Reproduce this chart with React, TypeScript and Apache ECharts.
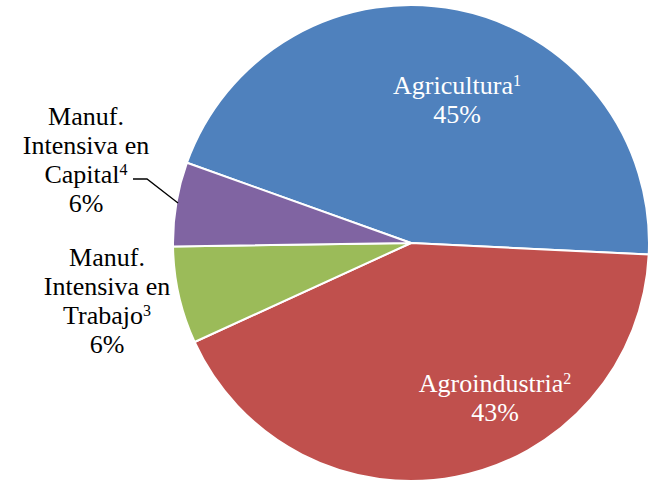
import React, { useEffect, useRef } from "react";
import * as echarts from "echarts";

const categories = [
  "Agricultura",
  "Agroindustria",
  "Manuf.\nIntensiva en\nTrabajo",
  "Manuf.\nIntensiva en\nCapital",
];
const notes = ["1", "2", "3", "4"];
const values = [45.3, 42.4, 6.6, 5.7];
const percentLabels = ["45%", "43%", "6%", "6%"];
const colors = ["#4F81BD", "#C0504D", "#9BBB59", "#8064A2"];

const labelPos = [
  { x: 457, y: 100 },
  { x: 495, y: 398 },
  { x: 107, y: 301 },
  { x: 86, y: 160 },
];
const leaderPoints = [
  [133, 179],
  [147, 179],
  [178, 203],
];

export default function App() {
  const ref = useRef<HTMLDivElement>(null);
  useEffect(() => {
    document.body.style.margin = "0";
    const chart = echarts.init(ref.current!, null, { renderer: "svg" });
    const font = "Liberation Serif";
    const lineGap = 29;
    const data = categories.map((name, i) => ({
      name,
      value: values[i],
      itemStyle: { color: colors[i] },
    }));
    const elements: any[] = [];
    categories.forEach((name, i) => {
      const fill = i < 2 ? "#ffffff" : "#000000";
      const nameLines = name.split("\n");
      const all = [...nameLines, percentLabels[i]];
      const n = all.length;
      all.forEach((line, j) => {
        const y = labelPos[i].y + (j - (n - 1) / 2) * lineGap;
        const isSup = j === nameLines.length - 1;
        const style: any = isSup
          ? {
              text: `{a|${line}}{b|${notes[i]}}`,
              rich: {
                a: { fontFamily: font, fontSize: 26, fill },
                b: { fontFamily: font, fontSize: 16, fill, verticalAlign: "top", lineHeight: 18 },
              },
              fill,
              align: "center",
              verticalAlign: "middle",
            }
          : {
              text: line,
              fontFamily: font,
              fontSize: 26,
              fill,
              align: "center",
              verticalAlign: "middle",
            };
        elements.push({ type: "text", x: labelPos[i].x, y, z: 10, style });
      });
    });
    elements.push({
      type: "polyline",
      z: 10,
      shape: { points: leaderPoints },
      style: { stroke: "#000000", lineWidth: 1.3, fill: null },
    });
    chart.setOption({
      animation: false,
      graphic: elements,
      series: [
        {
          type: "pie",
          center: [411, 243],
          radius: [0, 238],
          startAngle: 160.3,
          clockwise: true,
          itemStyle: { borderColor: "#ffffff", borderWidth: 2 },
          label: { show: false },
          labelLine: { show: false },
          data,
        },
      ],
    });
    return () => chart.dispose();
  }, []);
  return <div ref={ref} style={{ width: 654, height: 482 }} />;
}
